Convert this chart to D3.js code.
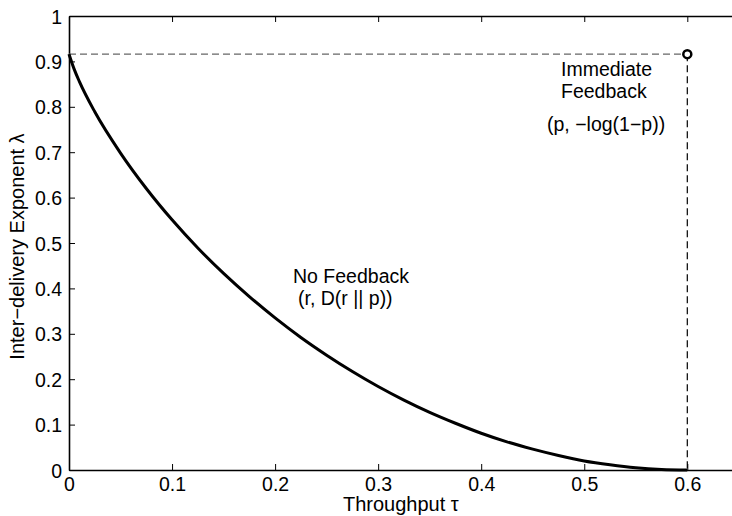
<!DOCTYPE html>
<html><head><meta charset="utf-8">
<script src="https://cdn.jsdelivr.net/npm/d3@7"></script>
<style>body{margin:0;background:#fff}svg{display:block}text{font-family:"Liberation Sans",Arial,Helvetica,sans-serif;fill:#000}</style>
</head><body><svg id="c" width="732" height="516"></svg>
<script>
// Data
const throughput = [0, 0.005, 0.01, 0.025, 0.05, 0.075, 0.1, 0.125, 0.15, 0.175, 0.2, 0.225, 0.25, 0.275, 0.3, 0.325, 0.35, 0.375, 0.4, 0.425, 0.45, 0.475, 0.5, 0.525, 0.55, 0.575, 0.6];
const exponent = [0.916, 0.883, 0.856, 0.789, 0.698, 0.620, 0.551, 0.489, 0.433, 0.382, 0.335, 0.292, 0.253, 0.217, 0.184, 0.154, 0.127, 0.103, 0.081, 0.062, 0.046, 0.032, 0.020, 0.0115, 0.005, 0.0013, 0];
const immediatePoint = [0.6, 0.916];
const xTicks = [0, 0.1, 0.2, 0.3, 0.4, 0.5, 0.6];
const yTicks = [0, 0.1, 0.2, 0.3, 0.4, 0.5, 0.6, 0.7, 0.8, 0.9, 1];
const xDomain = [0, 0.65];
const yDomain = [0, 1];

const svg = d3.select("#c");
const L = 69, T = 16, B = 470, Wr = 103.05;
const x = d3.scaleLinear().domain(xDomain).range([L, L + 6.5 * Wr]);
const y = d3.scaleLinear().domain(yDomain).range([B, T]);
const fmt = d => d === 0 ? "0" : d === 1 ? "1" : d3.format(".1f")(d);

// axes
const xa = svg.append("g").attr("transform", `translate(0,${B})`)
  .call(d3.axisBottom(x).tickValues(xTicks).tickFormat(fmt).tickSizeInner(-6).tickSizeOuter(0).tickPadding(7));
const xt = svg.append("g").attr("transform", `translate(0,${T})`)
  .call(d3.axisTop(x).tickValues(xTicks).tickFormat("").tickSizeInner(-6).tickSizeOuter(0));
const ya = svg.append("g").attr("transform", `translate(${L},0)`)
  .call(d3.axisLeft(y).tickValues(yTicks).tickFormat(fmt).tickSizeInner(-6).tickSizeOuter(0).tickPadding(7));
[xa, xt, ya].forEach(g => {
  g.attr("font-size", null).attr("font-family", null);
  g.select(".domain").attr("stroke", "#000").attr("stroke-width", 1.6);
  g.selectAll(".tick line").attr("stroke", "#000").attr("stroke-width", 1);
  g.selectAll(".tick text").style("font-size", "19.5px").attr("fill", "#000");
});
ya.selectAll(".tick text").attr("dy", "0.36em");

// dashed guides
svg.append("line").attr("x1", x(0)).attr("x2", x(immediatePoint[0]))
  .attr("y1", y(immediatePoint[1])).attr("y2", y(immediatePoint[1]))
  .attr("stroke", "#666").attr("stroke-width", 1.2).attr("stroke-dasharray", "7,4");
svg.append("line").attr("x1", x(immediatePoint[0])).attr("x2", x(immediatePoint[0]))
  .attr("y1", y(immediatePoint[1])).attr("y2", y(0))
  .attr("stroke", "#000").attr("stroke-width", 1.2).attr("stroke-dasharray", "7,4");

// curve
const pts = throughput.map((t, i) => [t, exponent[i]]);
const line = d3.line().x(d => x(d[0])).y(d => y(d[1])).curve(d3.curveMonotoneX);
svg.append("path").datum(pts).attr("d", line)
  .attr("fill", "none").attr("stroke", "#000").attr("stroke-width", 3);

// point
svg.append("circle").attr("cx", x(immediatePoint[0])).attr("cy", y(immediatePoint[1])).attr("r", 4)
  .attr("fill", "#fff").attr("stroke", "#000").attr("stroke-width", 2.5);

// annotations
const ann = (tx, ty, s) => svg.append("text").attr("x", tx).attr("y", ty).style("font-size", "19.5px").text(s);
ann(561, 76, "Immediate");
ann(561, 98, "Feedback");
ann(547, 131, "(p, \u2212log(1\u2212p))");
ann(293, 283, "No Feedback");
ann(298, 305, "(r, D(r || p))");

// axis titles
svg.append("text").attr("x", 343).attr("y", 511).style("font-size", "20px").text("Throughput \u03C4");
svg.append("text").attr("transform", `translate(24,${(125 + 368) / 2}) rotate(-90)`)
  .attr("text-anchor", "middle").style("font-size", "20px").text("Inter\u2212delivery Exponent  \u03BB");
</script></body></html>
